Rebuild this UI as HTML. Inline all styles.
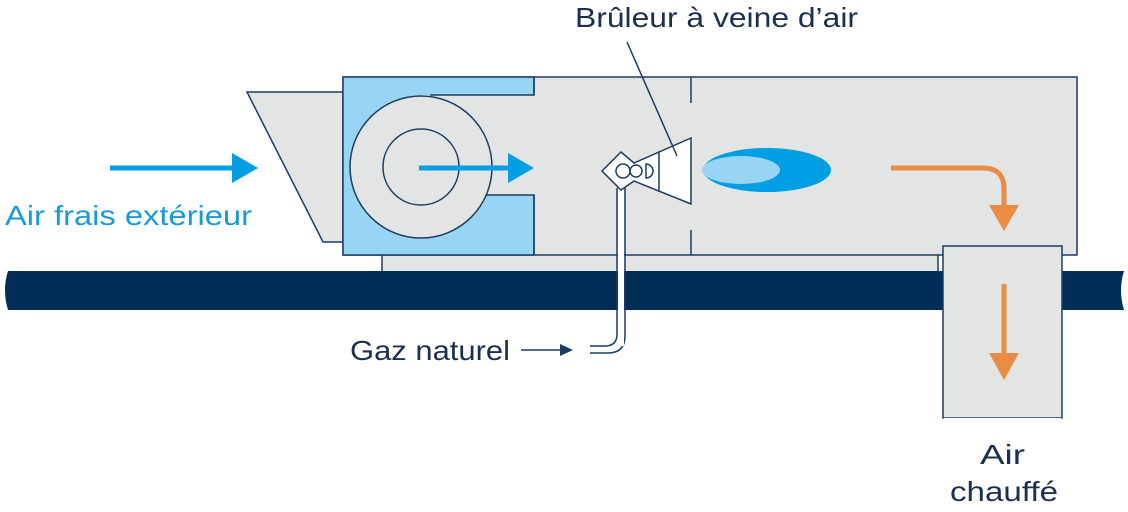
<!DOCTYPE html>
<html><head><style>body{margin:0;background:#fff}svg{display:block}</style></head><body>
<svg width="1128" height="512" viewBox="0 0 1128 512" xmlns="http://www.w3.org/2000/svg" font-family="Liberation Sans, sans-serif">
<rect x="0" y="0" width="1128" height="512" fill="#fff"/>
<rect x="382" y="253" width="556" height="19" fill="#e3e4e4" stroke="#1d3c63" stroke-width="1.5"/>
<path d="M8,271 H1124 Q1118,290 1124,310 H8 Q2,290 8,271 Z" fill="#022d57"/>
<polygon points="247,92 343,92 343,242 323,242" fill="#e3e4e4" stroke="#1d3c63" stroke-width="1.5"/>
<rect x="343" y="77" width="734" height="178" fill="#e3e4e4" stroke="#1d3c63" stroke-width="1.5"/>
<rect x="343" y="77" width="191" height="178" fill="#98d5f5" stroke="#1d3c63" stroke-width="1.5"/>
<rect x="421" y="95" width="114" height="100" fill="#e3e4e4"/>
<polyline points="534,77 534,95 430,95" fill="none" stroke="#1d3c63" stroke-width="1.5"/>
<polyline points="480,195 534,195 534,255" fill="none" stroke="#1d3c63" stroke-width="1.5"/>
<circle cx="421" cy="167" r="71" fill="#e3e4e4" stroke="#1d3c63" stroke-width="1.5"/>
<circle cx="421" cy="167" r="38" fill="none" stroke="#1d3c63" stroke-width="1.5"/>
<line x1="691" y1="77" x2="691" y2="103" stroke="#1d3c63" stroke-width="1.5"/>
<line x1="691" y1="230" x2="691" y2="255" stroke="#1d3c63" stroke-width="1.5"/>
<line x1="110" y1="168" x2="234" y2="168" stroke="#009fe3" stroke-width="5"/>
<polygon points="232,153 258,168 232,183" fill="#009fe3"/>
<line x1="419" y1="168" x2="510" y2="168" stroke="#009fe3" stroke-width="5"/>
<polygon points="508,153 534,168 508,183" fill="#009fe3"/>
<path d="M617,188 V334 Q617,346 605,346 H590" fill="none" stroke="#1d3c63" stroke-width="1.5"/>
<path d="M625,188 V336 Q625,353 608,353 H590" fill="none" stroke="#1d3c63" stroke-width="1.5"/>
<rect x="618" y="188" width="6" height="158" fill="#fff"/>
<polygon points="602,171 621,152 634,163 691,138 691,204 634,181 621,190" fill="#fff" stroke="#1d3c63" stroke-width="1.5"/>
<line x1="659" y1="151" x2="659" y2="192" stroke="#1d3c63" stroke-width="1.5"/>
<circle cx="623" cy="171" r="7" fill="#fff" stroke="#1d3c63" stroke-width="1.5"/>
<circle cx="636" cy="171" r="6" fill="#fff" stroke="#1d3c63" stroke-width="1.5"/>
<path d="M646,164 A7,7 0 0 1 646,178 Z" fill="#fff" stroke="#1d3c63" stroke-width="1.5"/>
<line x1="627" y1="42" x2="677" y2="156" stroke="#1d3c63" stroke-width="1.5"/>
<ellipse cx="767" cy="170" rx="64" ry="22" fill="#009fe3"/>
<ellipse cx="741" cy="170" rx="39" ry="14" fill="#98d5f5"/>
<path d="M891,168 H983 Q1004,168 1004,189 V208" fill="none" stroke="#ea8c44" stroke-width="5"/>
<polygon points="989,205 1019,205 1004,231" fill="#ea8c44"/>
<rect x="943" y="246" width="119" height="172" fill="#e3e4e4" stroke="#1d3c63" stroke-width="1.5"/>
<rect x="943.8" y="418" width="117.5" height="4" fill="#fff"/>
<line x1="1004" y1="284" x2="1004" y2="356" stroke="#ea8c44" stroke-width="5"/>
<polygon points="989,353 1019,353 1004,380" fill="#ea8c44"/>
<line x1="521" y1="350" x2="562" y2="350" stroke="#1d3c63" stroke-width="1.5"/>
<polygon points="560,344 573,350 560,356" fill="#1d3c63"/>
<text x="575" y="27" font-size="28" fill="#1d2f4f" textLength="283" lengthAdjust="spacingAndGlyphs">Brûleur à veine d’air</text>
<text x="5" y="225" font-size="28" fill="#1a9ad6" textLength="247" lengthAdjust="spacingAndGlyphs">Air frais extérieur</text>
<text x="350" y="360" font-size="28" fill="#1d2f4f" textLength="160" lengthAdjust="spacingAndGlyphs">Gaz naturel</text>
<text x="980" y="464" font-size="28" fill="#1d2f4f" textLength="45" lengthAdjust="spacingAndGlyphs">Air</text>
<text x="950" y="501" font-size="28" fill="#1d2f4f" textLength="108" lengthAdjust="spacingAndGlyphs">chauffé</text>
</svg>
</body></html>
